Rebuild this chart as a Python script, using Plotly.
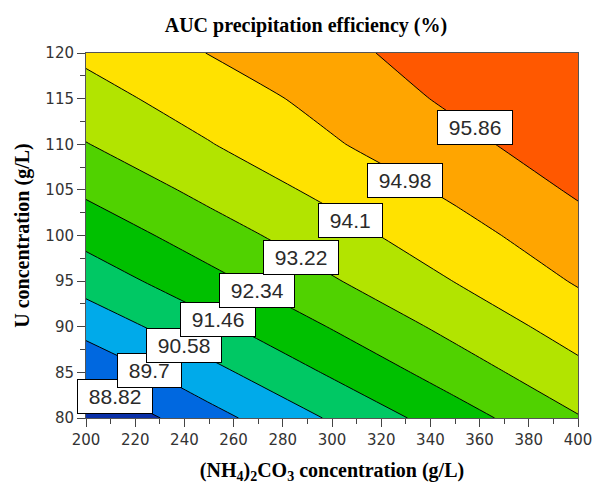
import plotly.graph_objects as go

# ---- data ----
nh4_conc = [200, 250, 300, 350, 400]                      # x (g/L)
u_conc = [80, 85, 90, 95, 100, 105, 110, 115, 120]         # y (g/L)
efficiency = [                                             # z (%) rows follow u_conc
    [87.95, 89.39, 90.68, 91.95, 93.16],
    [88.99, 90.31, 91.58, 92.77, 93.87],
    [90.01, 91.22, 92.39, 93.48, 94.49],
    [90.94, 92.07, 93.14, 94.12, 95.06],
    [91.74, 92.81, 93.76, 94.65, 95.52],
    [92.50, 93.47, 94.34, 95.15, 95.97],
    [93.19, 94.06, 94.90, 95.61, 96.37],
    [93.77, 94.54, 95.25, 96.02, 96.76],
    [94.27, 95.00, 95.57, 96.38, 97.09],
]
contour_start = 88.82
contour_end = 95.86
contour_step = 0.88

label_text = ["88.82", "89.7", "90.58", "91.46", "92.34", "93.22", "94.1", "94.98", "95.86"]
label_x = [211.8, 226.0, 240.0, 253.7, 269.5, 287.4, 307.7, 329.7, 358.0]
label_y = [82.4, 85.2, 88.0, 90.8, 94.0, 97.6, 101.6, 106.0, 111.8]

band_colors = ["#0a30a8", "#0068e0", "#00aaea", "#00c864", "#00c000",
               "#50d200", "#b2e400", "#ffe200", "#ffa500", "#ff5800"]

colorscale = [[i / (len(band_colors) - 1), c] for i, c in enumerate(band_colors)]

fig = go.Figure()
fig.add_trace(go.Contour(
    x=nh4_conc, y=u_conc, z=efficiency,
    autocontour=False,
    contours=dict(start=contour_start, end=contour_end, size=contour_step,
                  coloring="fill", showlabels=False),
    colorscale=colorscale,
    line=dict(color="black", width=1, smoothing=0.4),
    showscale=False,
    hoverinfo="skip",
))

nb = "\u00a0"
for t, lx, ly in zip(label_text, label_x, label_y):
    fig.add_annotation(
        x=lx, y=ly, xref="x", yref="y", text=nb + t + nb, showarrow=False,
        bgcolor="white", bordercolor="black", borderwidth=1, borderpad=5,
        font=dict(family="Liberation Sans", size=21, color="#2a2a2a"),
    )

axis_common = dict(
    showgrid=False, zeroline=False, showline=True, mirror=True,
    linecolor="#555", linewidth=1, ticks="outside", ticklen=8, tickwidth=1,
    tickcolor="#444", automargin=False,
    tickfont=dict(family="DejaVu Sans", size=15, color="#333"),
    title_font=dict(family="Liberation Serif", size=20, color="black"),
)

fig.update_xaxes(
    range=[200, 400], tick0=200, dtick=20,
    minor=dict(dtick=10, ticks="outside", ticklen=5, tickcolor="#444"),
    title_text="<b>(NH<sub>4</sub>)<sub>2</sub>CO<sub>3</sub> concentration (g/L)</b>",
    title_standoff=14,
    **axis_common,
)
fig.update_yaxes(
    range=[80, 120], tick0=80, dtick=5,
    minor=dict(dtick=2.5, ticks="outside", ticklen=5, tickcolor="#444"),
    title_text="<b>U concentration (g/L)</b>",
    title_standoff=10,
    **axis_common,
)

fig.update_layout(
    width=594, height=484,
    margin=dict(l=86, r=16, t=53, b=66),
    paper_bgcolor="white", plot_bgcolor="white",
    title=dict(text="<b>AUC precipitation efficiency (%)</b>",
               x=0.515, xanchor="center", y=0.948, yanchor="middle",
               font=dict(family="Liberation Serif", size=20, color="black")),
    showlegend=False,
)

fig.write_html("out.html")
